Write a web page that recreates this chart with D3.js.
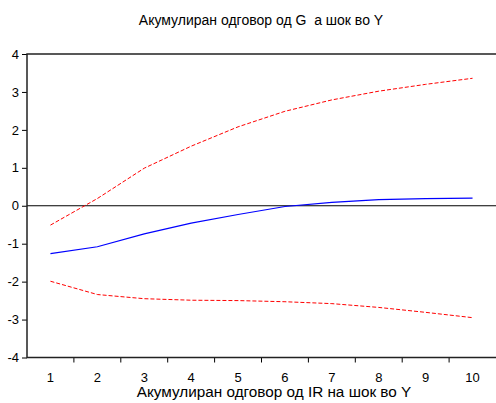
<!DOCTYPE html>
<html>
<head>
<meta charset="utf-8">
<script src="https://cdn.jsdelivr.net/npm/d3@7/dist/d3.min.js"></script>
<style>
  html, body { margin: 0; padding: 0; background: #fff; }
  svg { display: block; font-family: "Liberation Sans", Arial, sans-serif; }
</style>
</head>
<body>
<svg id="chart" width="496" height="403"></svg>
<script>
// Accumulated impulse response with ±2 S.E. bands
const periods = [1, 2, 3, 4, 5, 6, 7, 8, 9, 10];
const response = [-1.26, -1.08, -0.74, -0.46, -0.23, -0.02, 0.09, 0.16, 0.19, 0.20];
const upperBand = [-0.51, 0.19, 0.99, 1.57, 2.08, 2.49, 2.79, 3.02, 3.20, 3.36];
const lowerBand = [-1.99, -2.34, -2.45, -2.49, -2.50, -2.53, -2.58, -2.68, -2.81, -2.95];
const yTicks = [-4, -3, -2, -1, 0, 1, 2, 3, 4];

const titleText = "Акумулиран одговор од G  а шок во Y";
const xTitleText = "Акумулиран одговор од IR на шок во Y";

const svg = d3.select("#chart");
const plotLeft = 27, plotRight = 496, plotTop = 54, plotBottom = 357.5;

const x = d3.scaleBand().domain(periods).range([plotLeft, plotRight]).padding(0);
const y = d3.scaleLinear().domain([-4, 4]).range([plotBottom, plotTop]);

// Title
svg.append("text")
  .attr("x", 261).attr("y", 25)
  .attr("text-anchor", "middle")
  .style("font-size", "14px")
  .style("white-space", "pre")
  .attr("xml:space", "preserve")
  .text(titleText);

// Zero reference line
svg.append("line")
  .attr("x1", plotLeft).attr("x2", plotRight)
  .attr("y1", y(0)).attr("y2", y(0))
  .attr("stroke", "#000").attr("stroke-width", 1);

// Y axis
const yAxis = d3.axisLeft(y).tickValues(yTicks).tickSize(5).tickPadding(3)
  .tickFormat(d3.format("d"));
const gy = svg.append("g").attr("transform", `translate(${plotLeft},0)`).call(yAxis);
gy.select(".domain").remove();
gy.selectAll(".tick line").attr("stroke", "#000");
gy.selectAll(".tick text").style("font-size", "13px").attr("fill", "#000")
  .text(d => d < 0 ? "-" + Math.abs(d) : d);

// X axis: ticks sit on the band boundaries, labels at band centres
const gx = svg.append("g").attr("transform", `translate(0,${plotBottom})`);
gx.selectAll("line.tk")
  .data(periods.slice(1))
  .join("line")
  .attr("class", "tk")
  .attr("x1", d => x(d)).attr("x2", d => x(d))
  .attr("y1", 0).attr("y2", 5)
  .attr("stroke", "#000");
gx.selectAll("text.lb")
  .data(periods)
  .join("text")
  .attr("class", "lb")
  .attr("x", d => x(d) + x.bandwidth() / 2)
  .attr("y", 24)
  .attr("text-anchor", "middle")
  .style("font-size", "13px")
  .text(d => d);

// X axis title
svg.append("text")
  .attr("x", 274).attr("y", 397)
  .attr("text-anchor", "middle")
  .style("font-size", "15.3px")
  .text(xTitleText);

// Frame (top, left, bottom)
svg.append("path")
  .attr("d", `M${plotRight},${plotTop}H${plotLeft}V${plotBottom}H${plotRight}`)
  .attr("fill", "none").attr("stroke", "#222").attr("stroke-width", 1.5);

const line = d3.line()
  .x((d, i) => x(periods[i]) + x.bandwidth() / 2)
  .y(d => y(d));

svg.append("path").datum(upperBand)
  .attr("d", line).attr("fill", "none")
  .attr("stroke", "#ff0000").attr("stroke-width", 1)
  .attr("stroke-dasharray", "4,2");
svg.append("path").datum(lowerBand)
  .attr("d", line).attr("fill", "none")
  .attr("stroke", "#ff0000").attr("stroke-width", 1)
  .attr("stroke-dasharray", "4,2");
svg.append("path").datum(response)
  .attr("d", line).attr("fill", "none")
  .attr("stroke", "#0000ff").attr("stroke-width", 1.2);
</script>
</body>
</html>
